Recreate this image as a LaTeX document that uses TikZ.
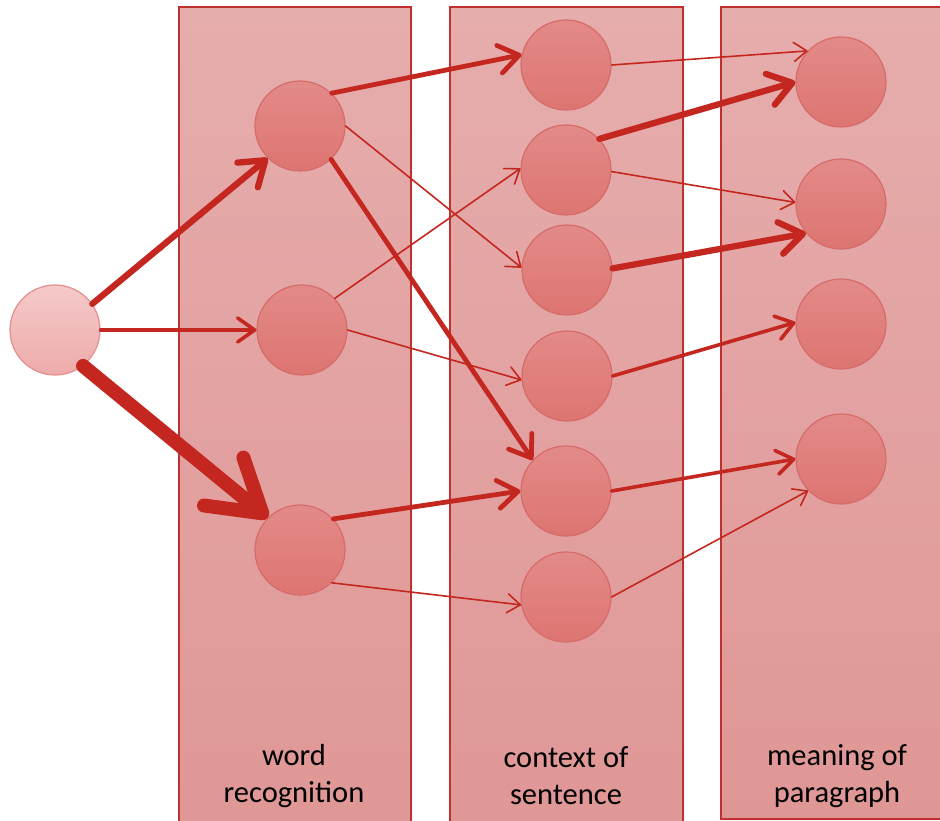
\documentclass[tikz,border=0pt]{standalone}
\usepackage{fontspec}
\setmainfont{Carlito}
\usetikzlibrary{arrows.meta}

\definecolor{laneedge}{HTML}{C0302E}
\definecolor{lanetop}{HTML}{E6ADAD}
\definecolor{lanebot}{HTML}{DF9795}
\definecolor{unittop}{HTML}{E38A88}
\definecolor{unitbot}{HTML}{DD7572}
\definecolor{unitedge}{HTML}{D66C69}
\definecolor{srctop}{HTML}{F6CACA}
\definecolor{srcbot}{HTML}{EDABAB}
\definecolor{srcedge}{HTML}{E48E8E}
\definecolor{linkred}{HTML}{C4271F}

\tikzset{
  lane/.style={draw=laneedge, line width=1.6pt, top color=lanetop, bottom color=lanebot},
  unit/.style={circle, minimum size=90pt, inner sep=0pt, draw=unitedge, line width=1.2pt,
    top color=unittop, bottom color=unitbot},
  source/.style={unit, draw=srcedge, top color=srctop, bottom color=srcbot},
  lanelabel/.style={font=\fontsize{30.5}{37}\selectfont, align=center, text=black, inner sep=0pt},
  link/.style={draw=linkred, line cap=round},
  thinlink/.style={link, line width=1.6pt,
    -{Straight Barb[round, length=13pt, width=19pt]}},
  medlink/.style={link, line width=3.6pt,
    -{Straight Barb[round, length=17pt, width=24pt]}},
  thicklink/.style={link, line width=4.8pt,
    -{Straight Barb[round, length=20pt, width=28pt]}},
  heavylink/.style={link, line width=6.3pt,
    -{Straight Barb[round, length=23pt, width=32pt]}},
  hugelink/.style={link, line width=14pt,
    -{Straight Barb[round, length=50pt, width=62pt]}},
}

\begin{document}
\begin{tikzpicture}[x=1pt, y=-1pt]
  \useasboundingbox (0,0) rectangle (940,821);
  \clip (0,0) rectangle (940,821);

  % processing stages
  \path[lane] (179,7) rectangle (411,840);
  \path[lane] (450,7) rectangle (683,840);
  \path[lane] (721,7) rectangle (955,819);

  \node[lanelabel] (lab1) at (294,776) {word\\recognition};
  \node[lanelabel] (lab2) at (566,776) {context of\\sentence};
  \node[lanelabel] (lab3) at (837,776) {meaning of\\paragraph};

  % units
  \node[source] (in) at (55,330) {};

  \node[unit] (w1) at (300,126) {};
  \node[unit] (w2) at (302,330) {};
  \node[unit] (w3) at (300,550) {};

  \node[unit] (c1) at (566,65) {};
  \node[unit] (c2) at (566,170) {};
  \node[unit] (c3) at (567,270) {};
  \node[unit] (c4) at (567,376) {};
  \node[unit] (c5) at (566,491) {};
  \node[unit] (c6) at (566,597) {};

  \node[unit] (p1) at (841,82) {};
  \node[unit] (p2) at (841,204) {};
  \node[unit] (p3) at (841,324) {};
  \node[unit] (p4) at (841,459) {};

  % weighted connections
  \draw[heavylink] (in.35) -- (w1.225);
  \draw[medlink] (in.0) -- (w2.180);
  \draw[hugelink] (in.-52) -- (w3.135);

  \draw[thicklink] (w1.46) -- (c1.167);
  \draw[thinlink] (w1.0) -- (c3.177);
  \draw[thicklink] (w1.-47) -- (c5.137);
  \draw[thinlink] (w2.44) -- (c2.178);
  \draw[thinlink] (w2.0) -- (c4.185);
  \draw[thicklink] (w3.43) -- (c5.180);
  \draw[thinlink] (w3.-46) -- (c6.190);

  \draw[thinlink] (c1.0) -- (p1.137);
  \draw[heavylink] (c2.43) -- (p1.180);
  \draw[thinlink] (c2.-2) -- (p2.178);
  \draw[heavylink] (c3.2) -- (p2.220);
  \draw[medlink] (c4.0) -- (p3.178);
  \draw[medlink] (c5.0) -- (p4.180);
  \draw[thinlink] (c6.0) -- (p4.224);
\end{tikzpicture}
\end{document}
